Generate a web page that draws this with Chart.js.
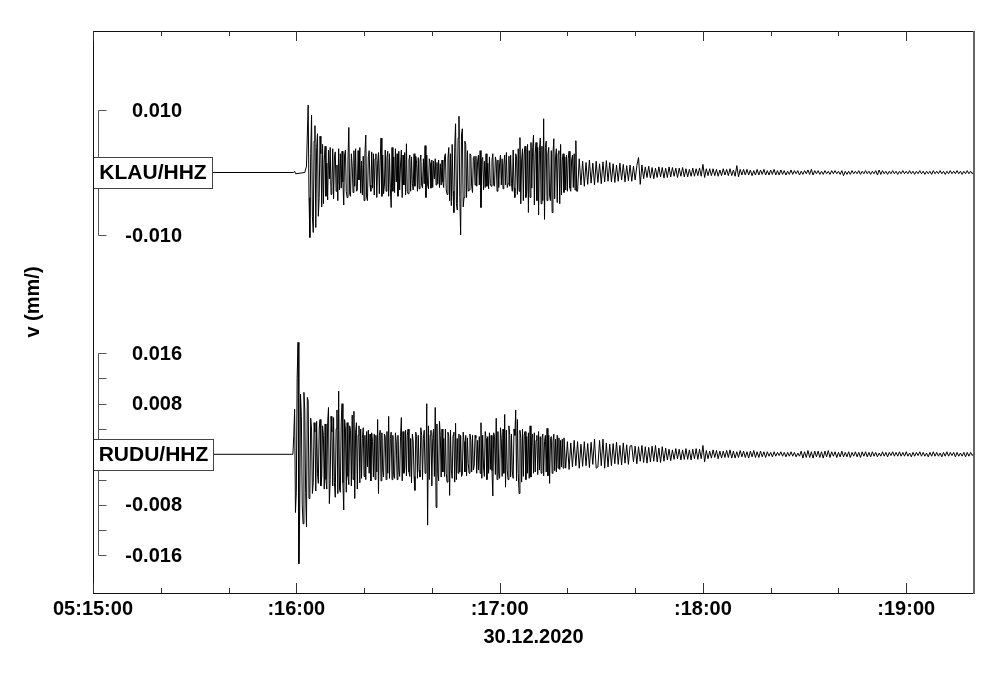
<!DOCTYPE html>
<html>
<head>
<meta charset="utf-8">
<script src="https://cdn.jsdelivr.net/npm/chart.js@4/dist/chart.umd.min.js"></script>
<style>
  html, body { margin: 0; padding: 0; background: #fff; }
  #c { display: block; }
</style>
</head>
<body>
<canvas id="c" width="1000" height="678"></canvas>
<script>
// ---------------- DATA ----------------
// time in seconds after 05:15:00, amplitudes in units of 1e-4 mm/s
const AMP_UNIT = 1e-4;

const xTickSeconds = [0, 20, 40, 60, 80, 100, 120, 140, 160, 180, 200, 220, 240];
const xMajorSeconds = [0, 60, 120, 180, 240];
const xMajorLabels = ['05:15:00', ':16:00', ':17:00', ':18:00', ':19:00'];
const xTitle = '30.12.2020';
const yTitle = 'v (mm/)';

const stations = ['KLAU/HHZ', 'RUDU/HHZ'];

const klauTicks = [-0.010, 0.010];
const klauTickLabels = ['-0.010', '0.010'];
const ruduTicks = [-0.016, -0.012, -0.008, -0.004, 0.004, 0.008, 0.012, 0.016];
const ruduLabelTicks = [-0.016, -0.008, 0.008, 0.016];
const ruduTickLabels = ['-0.016', '-0.008', '0.008', '0.016'];

// ---- KLAU/HHZ ----
const klauPreTimes = [0, 59.2, 59.5, 59.8, 62.5];
const klauPreValues = [0, 0, 2, -2, 0];
// strong motion, 0.25 s samples from 63.0 s
const klauStrongStart = 63.0;
const klauStrongStep = 0.25;
const klauStrongValues = [
  10, 60, 108, -40, -104, 30, 92, -70, -96, 50, 75, -88, 40, 62, -70, -40, 58, 30, -55, 45,
  -50, 20, 42, -38, 15, -44, 36, -10, 40, -35, -20, 38, -42, 25, 33, -30, 12, -45, 38, -28,
  30, -25, 34, -15, -52, 28, 36, -30, -40, 20, 72, -35, -38, 30, 10, -32, 35, -22, 38, -30,
  -28, 35, -12, 40, -33, 18, -36, 26, -45, 30, 60, -40, -45, 25, 35, -20, -30, 33, -25, 30,
  -36, 22, 30, -40, 15, 32, -34, 20, 55, -38, 28, -34, -20, 36, -30, 24, 34, -38, 30, -25,
  -56, 40, -30, 25, -32, 38, -15, 30, -38, 34, -28, 12, 36, -40, 28, -20, 32, -36, 46, -30,
  -34, 20, 28, -30, 25, -18, -28, 30, -22, 26, 15, -30, 24, -26, 18, 28, -20, -25, 22, -18,
  43, -40, 28, -20, -26, 22, 15, -25, 20, -24, 18, -10, 22, -20, 16, -18, 20, -24, 14, -20,
  20, -15, -24, 25, 30, -28, -35, 22, 40, -45, 30, -53, 45, -30, -64, 40, 78, -50, -60, 55,
  90, -40, -100, 60, 70, -55, -40, 50, 45, -40, 35, -30, -28, 30, 28, -22, -32, 24, 26, -20,
  26, -22, 18, 28, -20, 35, -56, 20, 24, -28, 18, -24, 30, -22, 15, -26, 25, -18, -22, 20,
  30, -20, -22, 25, 18, -30, 20, -24, 15, 28, -20, 22, -26, 12, 28, -20, 32, -24, -18, 26,
  -22, 28, -18, -30, 36, -25, -40, 30, 25, -35, 38, -30, 56, -50, 20, 38, -45, 30, 42, -40,
  -30, 45, -64, 35, -40, 48, -25, 40, 60, -52, 30, 48, -45, 40, -68, 35, 55, -50, 42, -45,
  86, -75, 40, 50, -45, 30, 40, -38, -45, 35, -64, 30, 54, -42, 25, 38, -48, 30, 35, -50,
  45, -36, 20, 30, -32, 25, -28, 28, -30, 22, 34, -25, -30, 20, 28, -24, 30, -28, 51, -30
];
// coda, 0.5 s samples from 143.0 s
const klauCodaStart = 143.0;
const klauCodaStep = 0.5;
const klauCodaValues = [
  -30, 22, -20, 18, -22, 16, -19, 20, -17, 15, -20, 18, -16, 14, -18, 17, -15, 19, -14, 16,
  -15, 14, -16, 12, -14, 15, -12, 13, -15, 11, -13, 12, -14, 10, -12, 11, 24, -19, 12, -10,
  9, -8, 10, -9, 8, -10, 7, -8, 9, -7, 8, -9, 7, -8, 9, -7, 8, -6, 7, -8,
  7, -6, 8, -7, 6, -7, 5, -6, 7, -6, 6, -5, 7, -6, 13, -8, 6, -5, 6, -5,
  6, -5, 5, -6, 4, -5, 6, -4, 5, -5, 6, -5, 4, -6, 11, -7, 5, -4, 5, -4,
  5, -4, 4, -5, 3, -4, 5, -4, 4, -3, 5, -4, 3, -4, 4, -3, 5, -4, 3, -4,
  4, -3, 3, -4, 2, -3, 4, -3, 3, -2, 3, -4, 2, -3, 3, -2, 4, -3, 5, -4,
  3, -2, 3, -3, 2, -3, 3, -2, 2, -3, 3, -2, 3, -2, 2, -3, 3, -5, 2, -3,
  2, -3, 3, -2, 2, -2, 3, -3, 2, -2, 3, -2, 2, -3, 2, -2, 3, -4, 4, -3,
  3, -2, 2, -3, 2, -2, 3, -2, 2, -3, 2, -2, 3, -2, 2, -2, 3, -2, 2, -3,
  2, -2, 3, -2, 2, -3, 2, -2, 2, -3, 3, -2, 2, -2, 3, -2, 2, -3, 2, -2,
  3, -2, 2, -2, 3, -2, 2, -3, 2, -2, 3, -2, 2, -2, 2
];

// ---- RUDU/HHZ ----
const ruduPreTimes = [0, 58.5];
const ruduPreValues = [0, 0];
const ruduStrongStart = 59.0;
const ruduStrongStep = 0.25;
const ruduStrongValues = [
  0, 30, 71, -92, -60, 120, 177, -173, -90, 95, 60, -80, -110, 98, 70, -60, -115, 90, 85, -70,
  -62, 57, 40, -62, -45, 50, 35, -58, 52, -30, -46, 40, 55, -50, -35, 45, 30, -55, 48, -40,
  -55, 50, 74, -78, -40, 60, 35, -50, 58, -45, -68, 40, 70, -62, 100, -55, -60, 50, 80, -45,
  -88, 55, 40, -60, 50, -35, -48, 45, 38, -50, 62, -40, 68, -70, 35, 50, -55, 30, 45, -45,
  40, -38, 25, 42, -35, 30, -40, 36, -20, 38, -30, 32, -42, 34, 20, -36, 32, -40, 30, -28,
  55, -62, 30, 38, -42, 34, -25, -36, 32, 28, -40, 36, -30, 60, -38, 25, 35, -40, 30, -33,
  -38, 34, 20, -40, 30, -25, -35, 28, 58, -42, 36, -30, -22, 38, -34, 30, 40, -28, -35, 25,
  -45, 32, 20, -35, -57, 35, 28, -38, 30, -25, -36, 42, 30, -40, 25, 38, -30, -20, 80, -112,
  45, -40, 30, 38, -50, 25, 40, -35, 74, -84, 48, -30, -42, 52, 30, -36, 40, -28, 25, -35,
  40, -30, -44, 35, 28, -65, 38, -25, -38, 30, 35, -44, 49, -40, 25, -30, 32, -28, 30, -35,
  -32, 35, 20, -28, 30, -34, 26, -15, -30, 32, 22, -28, 30, -25, -18, 30, 26, -30, 22, -25,
  28, -30, 50, -38, 30, -20, -35, 36, 25, -40, 28, -30, 34, -24, 30, -26, -66, 34, 28, -32,
  57, -40, 36, -30, -38, 42, 25, -35, 40, -30, 63, -52, 38, -25, -40, 45, 30, -36, 32, -28,
  -38, 40, 30, 70, -42, 55, -30, -62, 38, 25, -44, 40, -35, 30, 36, -40, 28, -30, 34, -38,
  45, -36, 25, 32, -30, 34, -28, 22, 30, -32, 36, -25, 28, -30, 26, 32, -34, 20, 30, -28,
  41, -34, 30, -46, 25, 28, -30, 20, 32, -26, 24, -28, 30, -22, 26, -24, 22, -20, 24, -22
];
const ruduCodaStart = 139.0;
const ruduCodaStep = 0.5;
const ruduCodaValues = [
  26, -22, 20, -24, 18, -20, 22, -18, 20, -22, 16, -19, 20, -18, 17, -21, 19, -16, 24, -22,
  -20, 22, -18, 24, -22, 18, -20, 16, -18, 17, -15, 19, -16, 14, -17, 18, -14, 15, -16, 13,
  14, -12, 13, -15, 12, -11, 14, -13, 12, -14, 11, -12, 13, -11, 14, -12, 10, -13, 12, -11,
  10, -9, 8, -10, 7, -8, 9, -7, 8, -9, 7, -8, 9, -8, 7, -9, 8, -7, 9, -8,
  8, -7, 14, -12, 6, -7, 5, -6, 7, -5, 6, -7, 5, -6, 5, -5, 6, -5, 7, -6,
  5, -6, 4, -5, 6, -4, 5, -5, 4, -6, 5, -4, 6, -5, 4, -5, 5, -4, 4, -5,
  4, -3, 3, -4, 4, -3, 3, -2, 4, -3, 3, -4, 3, -3, 4, -3, 3, -4, 2, -3,
  5, -6, 4, -5, 6, -5, 4, -6, 5, -4, 5, -5, 4, -6, 5, -4, 6, -5, 4, -3,
  4, -5, 3, -4, 5, -4, 3, -4, 4, -5, 3, -3, 4, -4, 3, -5, 4, -3, 4, -4,
  3, -4, 4, -3, 3, -4, 2, -3, 4, -3, 3, -4, 3, -2, 4, -3, 3, -3, 4, -3,
  3, -3, 4, -3, 2, -4, 3, -3, 3, -2, 4, -3, 3, -3, 2, -4, 3, -3, 4, -3,
  3, -3, 2, -4, 3, -3, 4, -3, 3, -2, 3, -4, 3, -3, 2, -3, 3, -4, 3, -3,
  3, -2, 2
];

// ---------------- BUILD POINTS ----------------
function buildTrace(preT, preV, segments) {
  const pts = preT.map((t, i) => ({ x: t, y: preV[i] * AMP_UNIT }));
  segments.forEach(([start, step, vals]) => {
    vals.forEach((v, i) => pts.push({ x: start + i * step, y: v * AMP_UNIT }));
  });
  return pts;
}
const klauPoints = buildTrace(klauPreTimes, klauPreValues, [
  [klauStrongStart, klauStrongStep, klauStrongValues],
  [klauCodaStart, klauCodaStep, klauCodaValues]
]);
const ruduPoints = buildTrace(ruduPreTimes, ruduPreValues, [
  [ruduStrongStart, ruduStrongStep, ruduStrongValues],
  [ruduCodaStart, ruduCodaStep, ruduCodaValues]
]);

// ---------------- DECORATION PLUGIN ----------------
const FAMILY = '"Liberation Sans", Arial, Helvetica, sans-serif';
const FONT = 'bold 20px ' + FAMILY;
const STATION_FONT = 'bold 21px ' + FAMILY;
const decor = {
  id: 'seismoDecor',
  afterDatasetsDraw(chart) {
    const { ctx, chartArea: a, scales } = chart;
    const sx = scales.x, yK = scales.yK, yR = scales.yR;
    ctx.save();

    // scale brackets
    ctx.strokeStyle = '#555';
    ctx.lineWidth = 1;
    const bx = a.left + 5.5;
    function bracket(scale, ticks, lo, hi) {
      ctx.beginPath();
      ctx.moveTo(bx, Math.round(scale.getPixelForValue(hi)) + 0.5);
      ctx.lineTo(bx, Math.round(scale.getPixelForValue(lo)) + 0.5);
      ticks.forEach(v => {
        const py = Math.round(scale.getPixelForValue(v)) + 0.5;
        ctx.moveTo(bx, py);
        ctx.lineTo(bx + 8, py);
      });
      ctx.stroke();
    }
    bracket(yK, klauTicks, -0.010, 0.010);
    bracket(yR, ruduTicks, -0.016, 0.016);

    // bracket labels
    ctx.fillStyle = '#000';
    ctx.font = FONT;
    ctx.textAlign = 'right';
    ctx.textBaseline = 'middle';
    klauTicks.forEach((v, i) => ctx.fillText(klauTickLabels[i], 182, yK.getPixelForValue(v) + 1));
    ruduLabelTicks.forEach((v, i) => ctx.fillText(ruduTickLabels[i], 182, yR.getPixelForValue(v) + 1));

    // station boxes
    ctx.font = STATION_FONT;
    [[yK, stations[0], 119], [yR, stations[1], 120]].forEach(([scale, name, w]) => {
      const cy = scale.getPixelForValue(0);
      const top = Math.round(cy - 15.5) + 0.5;
      ctx.fillStyle = '#fff';
      ctx.fillRect(a.left, top, w, 31);
      ctx.strokeStyle = '#444';
      ctx.strokeRect(a.left + 0.5, top, w, 31);
      ctx.fillStyle = '#000';
      ctx.textAlign = 'center';
      ctx.fillText(name, a.left + w / 2 + 0.5, cy + 1);
    });

    // frame
    ctx.strokeStyle = '#111';
    ctx.lineWidth = 1;
    ctx.strokeRect(a.left + 0.5, a.top + 0.5, a.right - a.left - 1, a.bottom - a.top);
    ctx.strokeStyle = '#666';
    ctx.lineWidth = 2;
    ctx.beginPath();
    ctx.moveTo(a.right, a.top);
    ctx.lineTo(a.right, a.bottom + 1);
    ctx.stroke();

    // inward ticks on top and bottom
    ctx.strokeStyle = '#333';
    ctx.lineWidth = 1;
    ctx.beginPath();
    xTickSeconds.forEach(t => {
      const px = Math.round(sx.getPixelForValue(t)) + 0.5;
      const len = xMajorSeconds.includes(t) ? 10 : 5;
      ctx.moveTo(px, a.bottom);
      ctx.lineTo(px, a.bottom - len);
      ctx.moveTo(px, a.top);
      ctx.lineTo(px, a.top + len);
    });
    ctx.stroke();

    // x labels
    ctx.font = FONT;
    ctx.fillStyle = '#000';
    ctx.textAlign = 'center';
    ctx.textBaseline = 'middle';
    xMajorSeconds.forEach((t, i) => ctx.fillText(xMajorLabels[i], sx.getPixelForValue(t), a.bottom + 16));
    ctx.fillText(xTitle, (a.left + a.right) / 2, a.bottom + 44);

    // y title
    ctx.translate(33, 302);
    ctx.rotate(-Math.PI / 2);
    ctx.fillText(yTitle, 0, 0);
    ctx.restore();
  }
};

new Chart(document.getElementById('c'), {
  type: 'line',
  data: {
    datasets: [
      { label: stations[0], data: klauPoints, yAxisID: 'yK', borderColor: '#000', borderWidth: 1,
        pointRadius: 0, fill: false, tension: 0 },
      { label: stations[1], data: ruduPoints, yAxisID: 'yR', borderColor: '#000', borderWidth: 1,
        pointRadius: 0, fill: false, tension: 0 }
    ]
  },
  options: {
    responsive: false,
    animation: false,
    events: [],
    layout: { padding: { left: 93, right: 26, top: 31, bottom: 85 } },
    plugins: { legend: { display: false }, tooltip: { enabled: false } },
    scales: {
      x: { type: 'linear', min: 0, max: 260, display: false },
      yK: { type: 'linear', min: -0.06728, max: 0.02264, display: false },
      yR: { type: 'linear', min: -0.02193, max: 0.06693, display: false }
    }
  },
  plugins: [decor]
});
</script>
</body>
</html>
